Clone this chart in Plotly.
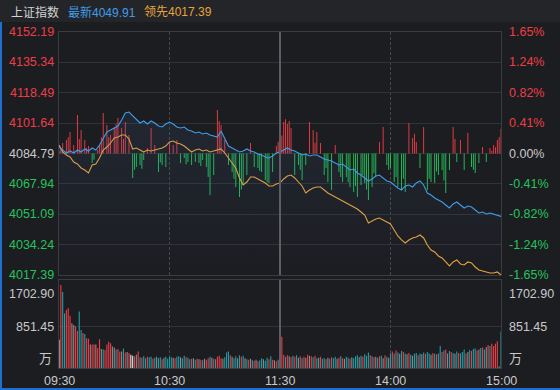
import plotly.graph_objects as go

# ---------------- data ----------------
PREV_CLOSE = 4084.79
TITLE = "上证指数"
LAST_LABEL = "最新"
LEAD_LABEL = "领先"
MAIN_TICKS = [4152.19, 4135.34, 4118.49, 4101.64, 4084.79, 4067.94, 4051.09, 4034.24, 4017.39]
PCT_LABELS = ["1.65%", "1.24%", "0.82%", "0.41%", "0.00%", "-0.41%", "-0.82%", "-1.24%", "-1.65%"]
VOL_TICKS = [1702.90, 851.45]
VOL_UNIT = "万"
TIME_TICKS = [0, 60, 120, 180, 240]
TIME_LABELS = ["09:30", "10:30", "11:30", "14:00", "15:00"]

LINE_MINUTES = list(range(0, 241, 2))
BAR_MINUTES = list(range(241))

INDEX_PRICE = [
    4088.39, 4086.73, 4085.07, 4086.18, 4085.07, 4086.73, 4085.62, 4087.29, 4086.18, 4087.84,
    4086.73, 4089.50, 4093.39, 4096.71, 4097.82, 4098.93, 4100.04, 4103.37, 4107.25, 4107.81,
    4105.59, 4103.92, 4101.71, 4102.81, 4101.15, 4102.81, 4101.71, 4100.04, 4099.49, 4101.15,
    4102.26, 4101.15, 4099.49, 4098.93, 4099.49, 4097.82, 4097.27, 4096.16, 4096.71, 4095.60,
    4096.16, 4095.05, 4094.50, 4093.94, 4097.27, 4093.39, 4088.95, 4087.84, 4086.73, 4085.62,
    4086.18, 4087.29, 4086.18, 4085.62, 4084.51, 4083.96, 4082.85, 4082.29, 4083.40, 4085.07,
    4085.62, 4086.73, 4087.84, 4086.73, 4086.18, 4085.07, 4083.96, 4084.51, 4083.40, 4083.96,
    4083.96, 4082.85, 4081.74, 4081.19, 4080.63, 4079.52, 4078.41, 4078.97, 4077.30, 4075.64,
    4076.19, 4073.98, 4072.87, 4071.20, 4069.54, 4070.65, 4072.31, 4072.87, 4071.20, 4069.54,
    4068.98, 4067.32, 4065.66, 4064.55, 4066.77, 4067.32, 4066.21, 4068.43, 4069.54, 4067.32,
    4062.88, 4061.77, 4060.11, 4059.00, 4057.89, 4056.23, 4054.56, 4056.78, 4057.89, 4056.23,
    4054.56, 4055.67, 4055.12, 4053.46, 4051.79, 4052.35, 4051.24, 4051.79, 4051.24, 4050.46,
    4049.91,
]

LEADER_PRICE = [
    4089.50, 4085.62, 4083.96, 4082.85, 4080.08, 4078.97, 4076.75, 4075.64, 4073.98, 4078.41,
    4078.97, 4082.29, 4086.73, 4088.39, 4090.61, 4093.39, 4093.94, 4095.05, 4095.05, 4092.83,
    4087.29, 4087.84, 4086.73, 4085.62, 4086.73, 4086.18, 4086.73, 4087.29, 4087.84, 4088.95,
    4091.17, 4091.72, 4090.61, 4090.06, 4088.95, 4087.29, 4085.62, 4086.73, 4087.29, 4086.18,
    4086.73, 4085.62, 4086.18, 4086.73, 4087.29, 4085.07, 4082.29, 4079.52, 4076.75, 4071.20,
    4067.32, 4068.98, 4071.76, 4071.76, 4070.65, 4069.54, 4068.43, 4066.77, 4066.77, 4067.87,
    4068.43, 4070.65, 4072.31, 4072.87, 4071.20, 4068.98, 4066.77, 4062.88, 4064.55, 4065.66,
    4066.21, 4066.21, 4064.55, 4062.88, 4061.77, 4060.66, 4059.56, 4058.45, 4057.34, 4056.23,
    4055.12, 4054.01, 4052.35, 4050.68, 4046.25, 4047.35, 4048.46, 4049.02, 4047.91, 4046.80,
    4045.69, 4042.36, 4039.04, 4036.82, 4035.15, 4036.82, 4037.93, 4038.48, 4039.59, 4037.93,
    4034.04, 4031.27, 4030.16, 4027.94, 4026.83, 4024.62, 4022.40, 4024.62, 4025.73, 4023.51,
    4022.95, 4024.62, 4024.06, 4021.84, 4020.18, 4019.62, 4019.07, 4018.52, 4018.52, 4019.07,
    4017.39,
]

STRENGTH = [
    1.5, 3.0, 5.8, 0, 7.5, 9.0, 11.9, 0, 4.7, 0,
    21.4, 8.0, 13.0, 0, 7.5, 3.0, 4.2, 0, -5.3, -3.5,
    0, 2.0, 4.7, 9.0, 22.5, 0, 15.8, 9.0, 10.3, 0,
    14.1, 16.5, 19.7, 0, 14.1, 8.0, 17.5, 0, 10.3, 0,
    -13.6, -9.0, -7.5, 0, -6.4, -8.5, -3.6, 0, 3.0, 0,
    14.1, 0, 4.7, 0, -10.3, -5.0, -6.4, 0, -7.5, 0,
    6.4, 0, 4.7, 0, 7.5, 0, -5.3, 0, -2.5, -6.0,
    -4.7, 0, -6.4, 0, -4.7, 0, -5.3, -7.0, -3.6, 0,
    -7.5, -13.0, -23.0, 0, -11.9, 0, 24.1, 18.0, 15.8, 0,
    7.5, 0, -6.4, 0, -10.3, -14.0, -18.6, 0, -24.1, -20.0,
    -17.5, 0, -11.9, 0, 5.8, 0, -7.5, 0, -8.0, -9.5,
    -10.3, 0, -14.7, -16.0, -16.4, 0, -10.3, 0, 4.2, 6.5,
    4.7, 10.0, 17.5, 19.0, 16.4, 18.0, 14.1, 0, -11.9, 0,
    -6.4, -9.0, -14.7, 0, -6.4, 0, 17.5, 0, 13.0, 6.0,
    11.9, 0, 5.8, 0, -11.9, -8.0, -15.8, 0, -20.2, 0,
    4.7, 0, -10.3, -13.0, -15.8, 0, -13.0, -16.0, -18.6, 0,
    -21.4, -18.0, -24.1, 0, -17.5, -12.0, -16.4, -20.0, -25.8, 0,
    -18.6, -11.0, -13.0, 0, 6.4, 0, 14.7, 0, -6.4, -9.0,
    -8.0, 0, -15.8, -13.0, -18.6, 0, -20.2, -14.0, -21.4, 0,
    16.9, 0, 8.6, 11.0, 6.4, 0, -8.0, 0, 14.7, 0,
    -20.2, -14.0, -15.8, 0, -16.4, -10.0, -11.9, 0, -9.2, -15.0,
    -21.9, 0, -9.2, 0, 14.7, 8.0, -4.7, 0, 7.5, 0,
    -9.2, 0, 11.4, 0, -7.5, -9.0, -10.8, 0, -5.3, 0,
    3.6, 0, -4.7, 0, 3.0, 1.5, 4.7, 3.5, 7.5, 9.0,
    13.6,
]

VOLUME = [
    580, 1702.9, 1560, 1120, 1190, 1230, 1070, 920, 880, 850,
    760, 1160, 780, 720, 700, 610, 600, 480, 480, 480,
    480, 410, 590, 390, 380, 370, 480, 540, 510, 440,
    420, 380, 390, 340, 340, 400, 320, 330, 310, 270,
    250, 240, 270, 340, 220, 210, 240, 200, 230, 220,
    230, 190, 210, 230, 200, 220, 180, 210, 230, 190,
    230, 220, 210, 200, 230, 240, 220, 200, 250, 220,
    210, 180, 190, 200, 170, 190, 180, 170, 160, 190,
    170, 200, 230, 210, 190, 180, 230, 250, 200, 190,
    220, 320, 340, 260, 230, 200, 240, 200, 260, 230,
    250, 200, 180, 170, 190, 160, 150, 170, 140, 160,
    200, 180, 150, 210, 180, 240, 170, 160, 140, 170,
    150, 640, 270, 230, 260, 240, 220, 250, 230, 260,
    210, 240, 200, 230, 210, 270, 250, 240, 220, 250,
    200, 210, 230, 190, 200, 180, 210, 190, 220, 200,
    230, 190, 210, 240, 200, 190, 230, 210, 190, 220,
    200, 240, 260, 220, 250, 230, 280, 250, 320, 260,
    240, 220, 230, 210, 240, 250, 200, 260, 230, 210,
    300, 340, 300, 360, 320, 290, 350, 330, 300, 280,
    310, 270, 250, 290, 310, 260, 300, 280, 320, 290,
    330, 300, 270, 310, 290, 280, 300, 450, 330, 360,
    380, 300, 350, 330, 310, 290, 340, 310, 300, 330,
    380, 300, 330, 370, 350, 390, 400, 360, 380, 410,
    420, 380, 430, 470, 450, 500, 450, 500, 550, 30,
    750,
]

# r = up, t = down, g = flat, w = opening/neutral
VOLUME_DIR = list(
    "wrttrrrggr" "rttrtrrgrr" "grrgtrrrrg" "gtrrgtrgrw" "wrgrtrttrt"
    "trtgttrgtt" "ttgrttgttr" "ttrgtrgrtg" "rrtgrtrrrg" "tttrgttgtr"
    "tgtrgtrgrt" "tgttrtrgrt" "rrrtrgrtrt" "grtrgrgrtr" "tgrttrgtrt"
    "tgrtrgttrg" "tttgtrtttr" "trgtrtgrtg" "trtrtgtrtg" "rtgttrtgtr"
    "ttgrtrttrt" "rgtrtgtrtt" "trgtrttrgt" "rtgrtrrrrg" "t"
)

assert len(INDEX_PRICE) == len(LINE_MINUTES), len(INDEX_PRICE)
assert len(LEADER_PRICE) == len(LINE_MINUTES), len(LEADER_PRICE)
assert len(STRENGTH) == len(BAR_MINUTES), len(STRENGTH)
assert len(VOLUME) == len(BAR_MINUTES), len(VOLUME)
assert len(VOLUME_DIR) == len(BAR_MINUTES), len(VOLUME_DIR)

# ---------------- style ----------------
W, H = 560, 390
BG = "#1c1d21"
HEADER_BG = "#242529"
GRID = "#303237"
BORDER = "#3a3c41"
RED = "#ee3d45"
GREEN = "#24c35c"
TEAL = "#1f9fa6"
GRAY = "#8c8c8c"
WHITE = "#e6e6e6"
BLUE = "#3f9de8"
ORANGE = "#e7a33e"
LABEL = "#c9c9c9"
FONT = "Liberation Sans, Noto Sans CJK SC, sans-serif"

def px_x(p):
    return p / W

def px_y(p):
    return 1 - p / H

X_DOM = [px_x(59), px_x(501)]
MAIN_DOM = [px_y(275), px_y(32)]
VOL_DOM = [px_y(368), px_y(280)]
VOL_MAX = 1805.5

vol_colors = {"r": RED, "t": TEAL, "g": GRAY, "w": WHITE}

fig = go.Figure()

# strength bars around previous close
fig.add_trace(go.Bar(
    x=BAR_MINUTES, y=STRENGTH, base=PREV_CLOSE,
    marker=dict(color=[RED if v > 0 else GREEN for v in STRENGTH], line=dict(width=0)),
    width=0.5, xaxis="x", yaxis="y", hoverinfo="skip",
))

# leader line
fig.add_trace(go.Scatter(
    x=LINE_MINUTES, y=LEADER_PRICE, mode="lines",
    line=dict(color=ORANGE, width=1.1), xaxis="x", yaxis="y", hoverinfo="skip",
))

# index line with soft fill below
fig.add_trace(go.Scatter(
    x=LINE_MINUTES, y=INDEX_PRICE, mode="lines",
    line=dict(color=BLUE, width=1.1), xaxis="x", yaxis="y",
    fill="tozeroy",
    fillgradient=dict(type="vertical", start=MAIN_TICKS[-1], stop=MAIN_TICKS[3],
                      colorscale=[[0, "rgba(70,110,170,0.0)"], [1, "rgba(70,110,170,0.12)"]]),
    hoverinfo="skip",
))

# volume bars
fig.add_trace(go.Bar(
    x=BAR_MINUTES, y=VOLUME,
    marker=dict(color=[vol_colors[c] for c in VOLUME_DIR], line=dict(width=0)),
    width=0.6, xaxis="x2", yaxis="y2", hoverinfo="skip",
))

axis_common = dict(showline=True, mirror=True, linecolor=BORDER, linewidth=1,
                   zeroline=False, showticklabels=False, ticks="", fixedrange=True)

fig.update_layout(
    width=W, height=H,
    margin=dict(l=0, r=0, t=0, b=0),
    paper_bgcolor=BG, plot_bgcolor=BG,
    showlegend=False, barmode="overlay", hovermode=False,
    font=dict(family=FONT, size=12, color=LABEL),
    xaxis=dict(domain=X_DOM, range=[0, 240], anchor="y", showgrid=False, **axis_common),
    yaxis=dict(domain=MAIN_DOM, range=[MAIN_TICKS[-1], MAIN_TICKS[0]], anchor="x",
               tickvals=MAIN_TICKS, showgrid=True, gridcolor=GRID, gridwidth=1, **axis_common),
    xaxis2=dict(domain=X_DOM, range=[0, 240], anchor="y2", showgrid=False, **axis_common),
    yaxis2=dict(domain=VOL_DOM, range=[0, VOL_MAX], anchor="x2",
                tickvals=[VOL_TICKS[1]], showgrid=True, gridcolor=GRID, gridwidth=1, **axis_common),
)

shapes = []
# header band
shapes.append(dict(type="rect", xref="paper", yref="paper", x0=0, x1=1, y0=px_y(22), y1=1,
                   fillcolor=HEADER_BG, line=dict(width=0), layer="below"))
# focus edges
shapes.append(dict(type="rect", xref="paper", yref="paper", x0=0, x1=px_x(2), y0=0, y1=px_y(22),
                   fillcolor="#1f6fd1", line=dict(width=0)))
shapes.append(dict(type="rect", xref="paper", yref="paper", x0=0, x1=1, y0=0, y1=2 / H,
                   fillcolor="#1f6fd1", line=dict(width=0)))
# vertical time grid lines
for xr, yr in (("x", "y domain"), ("x2", "y2 domain")):
    for t in (TIME_TICKS[1], TIME_TICKS[3]):
        shapes.append(dict(type="line", xref=xr, yref=yr, x0=t, x1=t, y0=0, y1=1,
                           line=dict(color="#45474d", width=1, dash="3px,2px"), layer="below"))
    shapes.append(dict(type="line", xref=xr, yref=yr, x0=TIME_TICKS[2], x1=TIME_TICKS[2], y0=0, y1=1,
                       line=dict(color="#5c5e63", width=2)))
fig.update_layout(shapes=shapes)

ann = []
# header
ann.append(dict(xref="paper", yref="paper", x=px_x(9), y=px_y(12), text=TITLE, showarrow=False,
                xanchor="left", yanchor="middle", font=dict(color="#d2d2d2", size=12)))
ann.append(dict(xref="paper", yref="paper", x=px_x(66), y=px_y(12),
                text=f"{LAST_LABEL}{INDEX_PRICE[-1]:.2f}", showarrow=False,
                xanchor="left", yanchor="middle", font=dict(color=BLUE, size=12)))
ann.append(dict(xref="paper", yref="paper", x=px_x(142), y=px_y(12),
                text=f"{LEAD_LABEL}{LEADER_PRICE[-1]:.2f}", showarrow=False,
                xanchor="left", yanchor="middle", font=dict(color=ORANGE, size=12)))

# main axis labels
for v, pct in zip(MAIN_TICKS, PCT_LABELS):
    if v > PREV_CLOSE + 1e-6:
        col = RED
    elif v < PREV_CLOSE - 1e-6:
        col = GREEN
    else:
        col = LABEL
    ann.append(dict(xref="paper", yref="y", x=px_x(56), y=v, text=f"{v:.2f}", showarrow=False,
                    xanchor="right", yanchor="middle", font=dict(color=col, size=12.5)))
    ann.append(dict(xref="paper", yref="y", x=px_x(507), y=v, text=pct, showarrow=False,
                    xanchor="left", yanchor="middle", font=dict(color=col, size=12.5)))

# volume labels
ann.append(dict(xref="paper", yref="y2", x=px_x(56), y=VOL_TICKS[0], text=f"{VOL_TICKS[0]:.2f}",
                showarrow=False, xanchor="right", yanchor="top", font=dict(color=LABEL, size=12.5)))
ann.append(dict(xref="paper", yref="y2", x=px_x(507), y=VOL_TICKS[0], text=f"{VOL_TICKS[0]:.2f}",
                showarrow=False, xanchor="left", yanchor="top", font=dict(color=LABEL, size=12.5)))
ann.append(dict(xref="paper", yref="y2", x=px_x(56), y=VOL_TICKS[1], text=f"{VOL_TICKS[1]:.2f}",
                showarrow=False, xanchor="right", yanchor="middle", font=dict(color=LABEL, size=12.5)))
ann.append(dict(xref="paper", yref="y2", x=px_x(507), y=VOL_TICKS[1], text=f"{VOL_TICKS[1]:.2f}",
                showarrow=False, xanchor="left", yanchor="middle", font=dict(color=LABEL, size=12.5)))
ann.append(dict(xref="paper", yref="y2", x=px_x(54), y=0, text=VOL_UNIT, showarrow=False,
                xanchor="right", yanchor="bottom", font=dict(color=LABEL, size=13)))
ann.append(dict(xref="paper", yref="y2", x=px_x(507), y=0, text=VOL_UNIT, showarrow=False,
                xanchor="left", yanchor="bottom", font=dict(color=LABEL, size=13)))

# time labels
for t, lab in zip(TIME_TICKS, TIME_LABELS):
    ann.append(dict(xref="x2", yref="paper", x=t, y=px_y(381), text=lab, showarrow=False,
                    xanchor="center", yanchor="middle", font=dict(color=LABEL, size=12.5)))

fig.update_layout(annotations=ann)

fig.write_html(
    "out.html",
    config={"displayModeBar": False, "staticPlot": True},
    post_script="document.body.style.margin='0';document.body.style.overflow='hidden';",
)
